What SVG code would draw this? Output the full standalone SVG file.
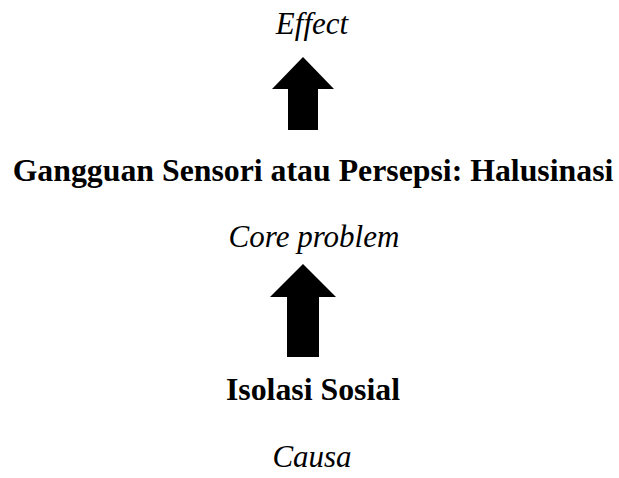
<svg xmlns="http://www.w3.org/2000/svg" width="619" height="478" viewBox="0 0 619 478">
<style>
.t{font-family:"Liberation Serif","Times New Roman",serif;font-size:31px;fill:#000;text-anchor:middle}
.i{font-style:italic}
.b{font-weight:bold;font-size:31.8px}
.arrow{fill:#000;stroke:none}
</style>
<rect width="619" height="478" fill="#fff"/>
<g id="effect"><text class="t i" x="312" y="34">Effect</text></g>
<g id="core"><text class="t b" x="313" y="181">Gangguan Sensori atau Persepsi: Halusinasi</text><text class="t i" x="314" y="247">Core problem</text></g>
<g id="causa"><text class="t b" x="313" y="400">Isolasi Sosial</text><text class="t i" x="312" y="467">Causa</text></g>
<g id="connectors">
<polygon class="arrow" points="303,57 334,89 318,89 318,130 288,130 288,89 272,89"/>
<polygon class="arrow" points="303,264 336,297 319,297 319,357 287,357 287,297 270,297"/>
</g>
</svg>
